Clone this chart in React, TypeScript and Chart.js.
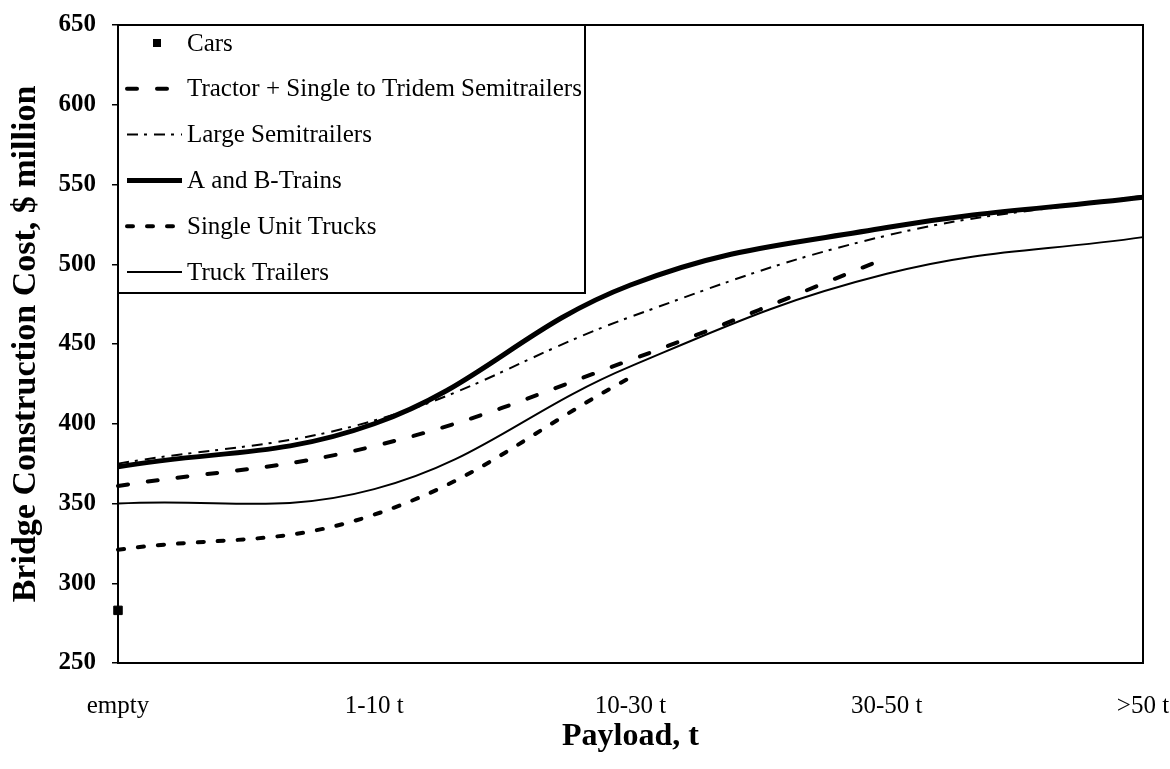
import React, { useEffect, useRef } from "react";
import { Chart, registerables } from "chart.js";

Chart.register(...registerables);

const categories = ["empty", "1-10 t", "10-30 t", "30-50 t", ">50 t"];
const cars = [283, null, null, null, null];
const tractorSemi = [361, 386, 440, 504, null];
const largeSemi = [375, 402, 467, 518, 543];
const abTrains = [373, 400, 487, 523, 542];
const singleUnit = [321, 343, 429, null, null];
const truckTrailers = [350, 359, 436, 494, 517];

const seriesLabels = [
  "Cars",
  "Tractor + Single to Tridem Semitrailers",
  "Large Semitrailers",
  "A and B-Trains",
  "Single Unit Trucks",
  "Truck Trailers",
];

const yMin = 250;
const yMax = 650;
const yStep = 50;

const FONT = "'Liberation Serif', 'Times New Roman', serif";

const boxLegendPlugin = {
  id: "boxLegend",
  beforeDraw(chart: any) {
    const { ctx, width, height } = chart;
    ctx.save();
    ctx.fillStyle = "#fff";
    ctx.fillRect(0, 0, width, height);
    ctx.restore();
  },
  afterDatasetsDraw(chart: any) {
    const { ctx, chartArea } = chart;
    ctx.save();
    ctx.strokeStyle = "#000";
    ctx.lineWidth = 2;
    ctx.setLineDash([]);
    ctx.strokeRect(
      chartArea.left,
      chartArea.top,
      chartArea.right - chartArea.left,
      chartArea.bottom - chartArea.top
    );
    const bx = chartArea.left;
    const by = chartArea.top;
    const bw = 467;
    const bh = 268;
    ctx.fillStyle = "#fff";
    ctx.fillRect(bx, by, bw, bh);
    ctx.strokeRect(bx, by, bw, bh);
    const rowH = 45.8;
    chart.data.datasets.forEach((ds: any, i: number) => {
      const y = by + 18 + i * rowH;
      const x0 = bx + 9;
      const x1 = bx + 64;
      ctx.strokeStyle = "#000";
      ctx.fillStyle = "#000";
      if (ds.showLine === false) {
        ctx.fillRect(bx + 35, y - 4, 8, 8);
      } else {
        ctx.lineWidth = ds.borderWidth;
        ctx.lineCap = ds.borderCapStyle || "butt";
        ctx.setLineDash(ds.borderDash || []);
        ctx.beginPath();
        ctx.moveTo(x0, y);
        ctx.lineTo(x1, y);
        ctx.stroke();
        ctx.setLineDash([]);
      }
      ctx.font = `25px ${FONT}`;
      ctx.textBaseline = "middle";
      ctx.textAlign = "left";
      ctx.fillText(ds.label, bx + 69, y + 1);
    });
    ctx.restore();
  },
};

export default function App() {
  const canvasRef = useRef<HTMLCanvasElement | null>(null);

  useEffect(() => {
    if (!canvasRef.current) return;
    const chart = new Chart(canvasRef.current, {
      type: "line",
      data: {
        labels: categories,
        datasets: [
          {
            label: seriesLabels[0],
            data: cars,
            showLine: false,
            pointStyle: "rect",
            pointRadius: 6,
            pointBackgroundColor: "#000",
            pointBorderColor: "#000",
            borderColor: "#000",
            borderWidth: 1,
          },
          {
            label: seriesLabels[1],
            data: tractorSemi,
            borderColor: "#000",
            borderWidth: 4,
            borderDash: [10, 20],
            borderCapStyle: "round",
            pointRadius: 0,
            tension: 0.4,
          },
          {
            label: seriesLabels[2],
            data: largeSemi,
            borderColor: "#000",
            borderWidth: 2,
            borderDash: [11, 6, 3, 7],
            pointRadius: 0,
            tension: 0.4,
          },
          {
            label: seriesLabels[3],
            data: abTrains,
            borderColor: "#000",
            borderWidth: 5,
            pointRadius: 0,
            tension: 0.4,
          },
          {
            label: seriesLabels[4],
            data: singleUnit,
            borderColor: "#000",
            borderWidth: 4,
            borderDash: [6, 14],
            borderCapStyle: "round",
            pointRadius: 0,
            tension: 0.4,
          },
          {
            label: seriesLabels[5],
            data: truckTrailers,
            borderColor: "#000",
            borderWidth: 2,
            pointRadius: 0,
            tension: 0.4,
          },
        ],
      },
      options: {
        animation: false,
        responsive: true,
        maintainAspectRatio: false,
        devicePixelRatio: 1,
        layout: { padding: { top: 25, right: 27, left: 0, bottom: 0 } },
        plugins: {
          legend: { display: false },
          tooltip: { enabled: false },
        },
        scales: {
          x: {
            type: "category",
            offset: false,
            grid: { display: false, drawTicks: false, tickLength: 0 },
            border: { display: false },
            ticks: {
              color: "#000",
              padding: 28,
              maxRotation: 0,
              autoSkip: false,
              font: { family: FONT, size: 25 },
            },
            title: {
              display: true,
              text: "Payload, t",
              color: "#000",
              font: { family: FONT, size: 32, weight: "bold" },
              padding: { top: 0, bottom: 13 },
            },
            afterFit: (scale: any) => {
              scale.height = 106;
              scale.paddingLeft = 0;
              scale.paddingRight = 0;
            },
          },
          y: {
            min: yMin,
            max: yMax,
            grid: {
              display: true,
              drawOnChartArea: false,
              drawTicks: true,
              tickLength: 6,
              color: "#000",
              lineWidth: 1.5,
            },
            border: { display: false },
            ticks: {
              stepSize: yStep,
              color: "#000",
              padding: 16,
              font: { family: FONT, size: 25, weight: "bold" },
            },
            title: {
              display: true,
              text: "Bridge Construction Cost, $ million",
              color: "#000",
              font: { family: FONT, size: 34, weight: "bold" },
              padding: { top: 6, bottom: 0 },
            },
            afterFit: (scale: any) => {
              scale.width = 118;
              scale.paddingTop = 0;
              scale.paddingBottom = 0;
            },
          },
        },
      },
      plugins: [boxLegendPlugin],
    });
    return () => chart.destroy();
  }, []);

  return (
    <div
      style={{
        position: "fixed",
        left: 0,
        top: 0,
        width: 1170,
        height: 769,
        background: "#fff",
      }}
    >
      <canvas ref={canvasRef} />
    </div>
  );
}
